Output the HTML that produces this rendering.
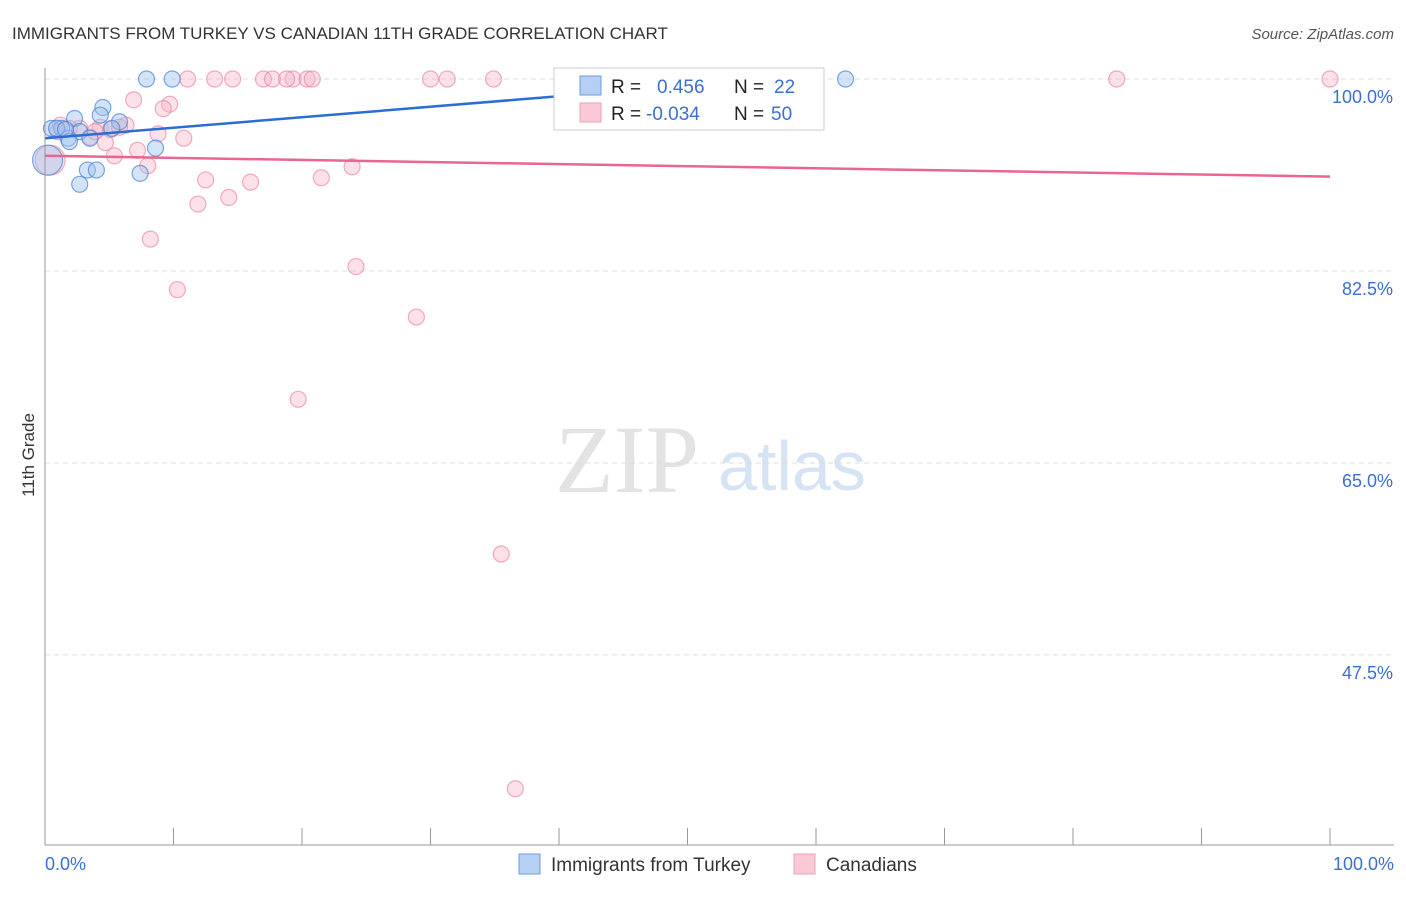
<!DOCTYPE html>
<html><head><meta charset="utf-8"><style>
body{margin:0;background:#fff;font-family:"Liberation Sans",sans-serif}
</style></head><body>
<svg id="c" width="1406" height="892" xmlns="http://www.w3.org/2000/svg">
<text x="12" y="39" font-size="17" fill="#333">IMMIGRANTS FROM TURKEY VS CANADIAN 11TH GRADE CORRELATION CHART</text>
<text x="1394" y="39" font-size="15" fill="#555" font-style="italic" text-anchor="end">Source: ZipAtlas.com</text>
<text x="555" y="492" font-size="96" fill="#e3e3e3" font-family="Liberation Serif,serif">ZIP</text>
<text x="718" y="490" font-size="70" fill="#d6e3f5">atlas</text>
<text transform="translate(34,455) rotate(-90)" font-size="17" fill="#333" text-anchor="middle">11th Grade</text>
<g id="grid"></g><g id="pts"></g><g id="lines"></g>
<line x1="45" y1="68" x2="45" y2="845" stroke="#999"/>
<line x1="45" y1="845" x2="1394" y2="845" stroke="#999"/>
<text x="45" y="870" font-size="18" fill="#3b6fd1">0.0%</text>
<text x="1394" y="870" font-size="18" fill="#3b6fd1" text-anchor="end">100.0%</text>
<g>
<rect x="554" y="68" width="270" height="62" fill="#fff" stroke="#ccc"/>
<rect x="580" y="76" width="21" height="19" fill="#b5d0f3" stroke="#6d9be0"/>
<rect x="580" y="103" width="21" height="19" fill="#fbc8d6" stroke="#eea0b8"/>
<text x="611" y="93" font-size="19" fill="#222">R = <tspan fill="#3b6fd1" x="657">0.456</tspan><tspan fill="#222" x="734">N =</tspan><tspan fill="#3b6fd1" x="774">22</tspan></text>
<text x="611" y="120" font-size="19" fill="#222">R = <tspan fill="#3b6fd1" x="646">-0.034</tspan><tspan fill="#222" x="734">N =</tspan><tspan fill="#3b6fd1" x="771">50</tspan></text>
</g>
<g>
<rect x="519" y="854" width="21" height="20" fill="#b5d0f3" stroke="#6d9be0"/>
<text x="551" y="871" font-size="19" fill="#333">Immigrants from Turkey</text>
<rect x="794" y="854" width="21" height="20" fill="#fbc8d6" stroke="#eea0b8"/>
<text x="826" y="871" font-size="19" fill="#333">Canadians</text>
</g>
</svg>
<script>
const yTicks=[100,82.5,65,47.5];
const yTickLabels=["100.0%","82.5%","65.0%","47.5%"];
const xTicks=[10,20,30,40,50,60,70,80,90,100];
const blueX=[7.9,9.9,62.3,4.5,2.3,5.8,0.5,1.3,5.2,2.7,1.8,1.9,3.5,8.6,3.3,4.0,7.4,2.7,0.9,1.6,4.3,0.2];
const blueY=[100,100,100,97.4,96.4,96.1,95.5,95.5,95.5,95.2,94.6,94.3,94.6,93.7,91.7,91.7,91.4,90.4,95.5,95.4,96.7,92.6];
const blueR=[8,8,8,8,8,8,8,8,8,8,8,8,8,8,8,8,8,8,8,8,8,15];
const pinkX=[11.1,13.2,14.6,17.0,17.7,19.3,18.8,20.4,20.8,30.0,31.3,34.9,40.9,47.9,56.4,83.4,100,6.9,9.7,9.2,1.2,2.7,4.3,6.3,8.8,10.8,3.5,4.7,5.4,7.2,8.0,12.5,16.0,21.5,23.9,11.9,14.3,8.2,10.3,24.2,28.9,19.7,35.5,36.6,0.4,1.9,5.1,5.8,3.9,1.0];
const pinkY=[100,100,100,100,100,100,100,100,100,100,100,100,100,100,100,100,100,98.1,97.7,97.3,95.8,95.5,95.6,95.8,95.0,94.6,94.7,94.2,93.0,93.5,92.1,90.8,90.6,91.0,92.0,88.6,89.2,85.4,80.8,82.9,78.3,70.8,56.7,35.3,92.6,95.5,95.4,95.6,95.2,95.2];
const blueLine=[0,94.6,56.4,100];
const pinkLine=[0,93.0,100,91.1];
const NS="http://www.w3.org/2000/svg";
const X=v=>45+v*12.85, Y=v=>79+(100-v)*10.97;
function mk(t,a,p){const e=document.createElementNS(NS,t);for(const k in a)e.setAttribute(k,a[k]);document.getElementById(p).appendChild(e);return e;}
yTicks.forEach((t,i)=>{
 const l=mk('line',{x1:45,x2:1394,y1:Y(t),y2:Y(t),stroke:'#ddd','stroke-dasharray':'5,4'},'grid');
 
 
 const tx=mk('text',{x:1393,y:Y(t)+24,'font-size':18,fill:'#3b6fd1','text-anchor':'end'},'grid');
 tx.textContent=yTickLabels[i];
 
 
});
xTicks.forEach(t=>{
 const l=mk('line',{x1:X(t),x2:X(t),y1:828,y2:845,stroke:'#999'},'grid');
 
 
});
pinkX.forEach((v,i)=>{
 const c=mk('circle',{cx:X(v),cy:Y(pinkY[i]),r:i==44?15:8,fill:'rgba(248,180,200,0.4)',stroke:'rgba(232,120,155,0.6)','stroke-width':1.2},'pts');
 
 
});
blueX.forEach((v,i)=>{
 const c=mk('circle',{cx:X(v),cy:Y(blueY[i]),r:blueR[i],fill:'rgba(160,195,240,0.45)',stroke:'rgba(70,130,215,0.7)','stroke-width':1.2},'pts');
 
 
});
let b=mk('line',{x1:X(blueLine[0]),y1:Y(blueLine[1]),x2:X(blueLine[2]),y2:Y(blueLine[3]),stroke:'#2a6dd4','stroke-width':2.5},'lines');


let p=mk('line',{x1:X(pinkLine[0]),y1:Y(pinkLine[1]),x2:X(pinkLine[2]),y2:Y(pinkLine[3]),stroke:'#e8668f','stroke-width':2.5},'lines');


</script>
</body></html>
